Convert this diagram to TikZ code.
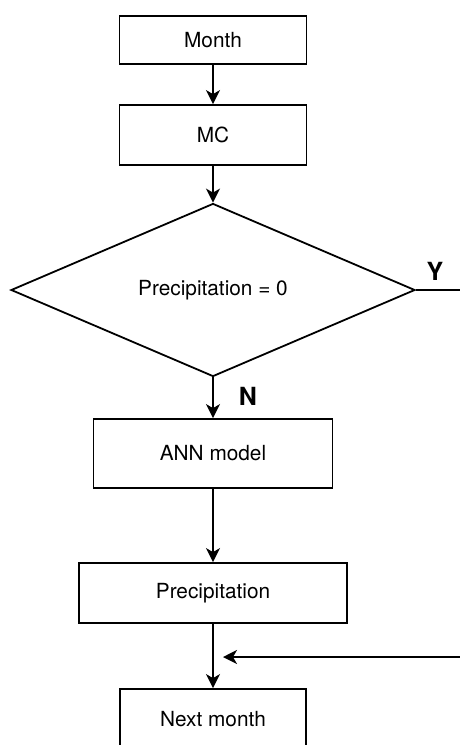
\documentclass[tikz,border=0pt]{standalone}
\usepackage{fontspec}
\setmainfont{TeX Gyre Heros}
\usetikzlibrary{positioning,shapes.geometric,arrows.meta}

\begin{document}
\begin{tikzpicture}[x=0.5pt,y=-0.5pt,
      line width=0.9pt,
      every node/.style={font=\fontsize{10.4}{12}\selectfont},
      box/.style={draw,rectangle,inner sep=0pt},
      test/.style={draw,diamond,inner sep=0pt},
      flow/.style={-{Stealth[length=7pt,width=7pt,inset=2pt]}},
      lbl/.style={font=\fontsize{12.5}{14}\selectfont\bfseries}
    ]
    \clip (0,0) rectangle (460,745);

    % the steps
    \node[box,minimum width=93.5pt,minimum height=24pt] (month) at (213,40) {Month};
    \node[box,minimum width=93.5pt,minimum height=30pt] (mc) at (213,135) {MC};
    \node[test,minimum width=202pt,minimum height=86.5pt] (rain0) at (213,290) {Precipitation = 0};
    \node[box,minimum width=119.5pt,minimum height=34.5pt] (ann) at (213,453.5) {ANN model};
    \node[box,minimum width=134pt,minimum height=30pt] (precip) at (213,593) {Precipitation};
    \node[box,minimum width=93pt,minimum height=30pt] (next) at (213,719) {Next month};

    % the branch labels
    \node[lbl] (yes) at (435,271) {Y};
    \node[lbl] (no) at (248,396) {N};

    % the free ends
    \coordinate (yend) at (460,290);
    \coordinate (back) at (460,657);
    \coordinate (backend) at (223,657);

    % the arrows
    \draw[flow] (month) -- (mc);
    \draw[flow] (mc) -- (rain0);
    \draw[flow] (rain0) -- (ann);
    \draw[flow] (ann) -- (precip);
    \draw[flow] (precip) -- (next);
    \draw (rain0.east) -- (yend);
    \draw[flow] (back) -- (backend);
\end{tikzpicture}
\end{document}
